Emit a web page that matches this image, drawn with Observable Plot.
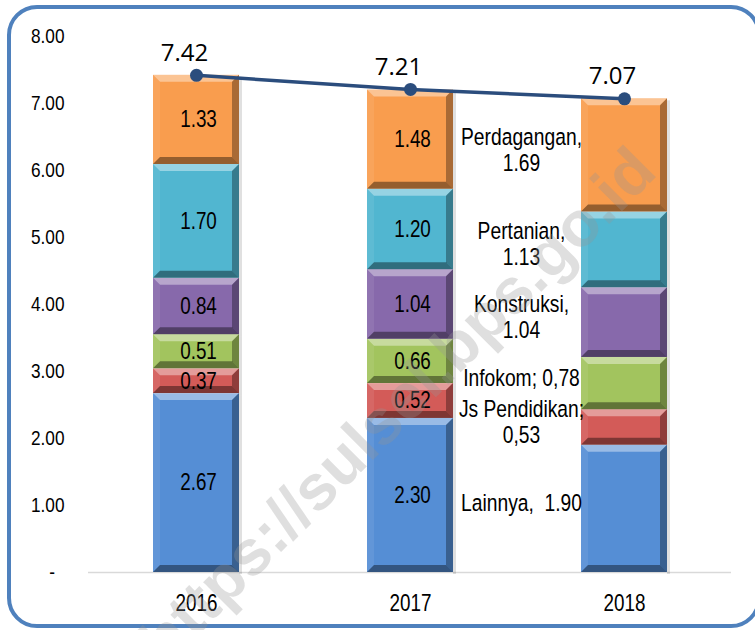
<!DOCTYPE html>
<html><head><meta charset="utf-8">
<script src="https://cdn.jsdelivr.net/npm/d3@7"></script>
<script src="https://cdn.jsdelivr.net/npm/@observablehq/plot@0.6"></script>
<style>
html,body{margin:0;padding:0;background:#fff;}
#page{position:relative;width:755px;height:630px;overflow:hidden;background:#fff;}
#frame{position:absolute;left:7px;top:5px;width:754px;height:623px;box-sizing:border-box;border:4px solid #4f81bd;border-radius:30px;}
#chart{position:absolute;left:0;top:0;}
#wm{position:absolute;left:397px;top:405px;transform:translate(-50%,-50%) rotate(-45deg);font:bold 64px "Liberation Sans",Arial,sans-serif;color:rgba(150,150,150,0.3);white-space:nowrap;pointer-events:none;}
</style></head><body>
<div id="page"><div id="frame"></div><div id="chart"></div><div id="wm">https://sulsel.bps.go.id</div></div>
<script>
const years = ["2016", "2017", "2018"];
const sectors = ["Lainnya", "Js Pendidikan", "Infokom", "Konstruksi", "Pertanian", "Perdagangan"];
const lainnya = [2.67, 2.30, 1.90];
const pendidikan = [0.37, 0.52, 0.53];
const infokom = [0.51, 0.66, 0.78];
const konstruksi = [0.84, 1.04, 1.04];
const pertanian = [1.70, 1.20, 1.13];
const perdagangan = [1.33, 1.48, 1.69];
const totals = [7.42, 7.21, 7.07];
const labels2018 = ["Lainnya,\u00a0\u00a01.90", "Js Pendidikan;\n0,53", "Infokom; 0,78", "Konstruksi,\n1.04", "Pertanian,\n1.13", "Perdagangan,\n1.69"];
const yTicks = [0, 1, 2, 3, 4, 5, 6, 7, 8];
const colors = ["#558ed5", "#d35b58", "#a2c45e", "#8769ab", "#51b6d0", "#f99d4e"];

const series = [lainnya, pendidikan, infokom, konstruksi, pertanian, perdagangan];
const rows = [];
years.forEach((yr, i) => sectors.forEach((s, j) => rows.push({year: yr, sector: s, value: series[j][i], label2018: labels2018[j]})));
const totalRows = years.map((yr, i) => ({year: yr, total: totals[i]}));

const sans = '"Liberation Sans",Arial,sans-serif';
const chart = Plot.plot({
  width: 755, height: 630,
  marginTop: 36, marginBottom: 58, marginLeft: 88, marginRight: 24,
  style: {fontFamily: sans, background: "transparent", color: "#000"},
  x: {domain: years, paddingInner: 0.6, paddingOuter: 0.3, label: null},
  y: {domain: [0, 8], label: null},
  color: {domain: sectors, range: colors},
  marks: [
    Plot.axisY({ticks: yTicks, tickFormat: d => d === 0 ? "-\u00a0\u00a0" : d.toFixed(2), tickSize: 0, tickPadding: 24, fontSize: 21, label: null}),
    Plot.axisX({tickSize: 0, tickPadding: 22, fontSize: 23, label: null}),
    Plot.ruleY([0], {stroke: "#d9d9d9", strokeWidth: 1.5}),
    Plot.barY(rows, {x: "year", y: "value", fill: "sector"}),
    Plot.text(rows, Plot.stackY({x: "year", y: "value", z: "sector", text: d => d.value.toFixed(2), filter: d => d.year !== "2018", dx: 2, fontSize: 23, fill: "#000"})),
    Plot.text(rows, Plot.stackY({x: "year", y: "value", z: "sector", text: "label2018", filter: d => d.year === "2018", dx: -103, dy: -6, fontSize: 23.5, lineHeight: 1.12, fill: "#000"})),
    Plot.line(totalRows, {x: "year", y: "total", stroke: "#2b4d7d", strokeWidth: 3.5}),
    Plot.dot(totalRows, {x: "year", y: "total", r: 6.5, fill: "#2b4d7d"}),
    Plot.text(totalRows, {x: "year", y: "total", text: d => d.total.toFixed(2), dy: -22, dx: -12, fontSize: 24, fontFamily: '"Open Sans",sans-serif', fill: "#000"})
  ]
});

// bevel decoration derived from the rendered bar rectangles
d3.select(chart).selectAll('g[aria-label="bar"] rect').each(function() {
  const r = d3.select(this);
  const x = +r.attr("x"), y = +r.attr("y"), w = +r.attr("width"), h = +r.attr("height");
  const b = Math.min(7, h / 3);
  const g = d3.select(this.parentNode);
  const poly = (pts, fill, op) => g.append("polygon")
    .attr("points", pts.map(p => p.join(",")).join(" "))
    .attr("fill", fill).attr("fill-opacity", op);
  poly([[x, y], [x + w, y], [x + w - b, y + b], [x + b, y + b]], "#fff", 0.4);
  poly([[x, y], [x + b, y + b], [x + b, y + h - b], [x, y + h]], "#fff", 0.08);
  poly([[x + w, y], [x + w, y + h], [x + w - b, y + h - b], [x + w - b, y + b]], "#000", 0.32);
  poly([[x, y + h], [x + w, y + h], [x + w - b, y + h - b], [x + b, y + h - b]], "#000", 0.4);
  g.append("rect").attr("x", x + w).attr("y", y + 2).attr("width", 3).attr("height", h)
    .attr("fill", "#000").attr("fill-opacity", 0.12);
});

// condense the Arial-Narrow-like texts horizontally about their own anchor
chart.querySelectorAll("text").forEach(t => {
  if (t.closest('[font-family*="Open Sans"]')) return;
  const xa = t.getAttribute("x");
  const x = xa && /^-?[\d.]+$/.test(xa) ? +xa : 0;
  const tr = t.getAttribute("transform") || "";
  t.setAttribute("transform", `${tr} translate(${x},0) scale(0.82,1) translate(${-x},0)`.trim());
});

document.getElementById("chart").appendChild(chart);
</script>
</body></html>
